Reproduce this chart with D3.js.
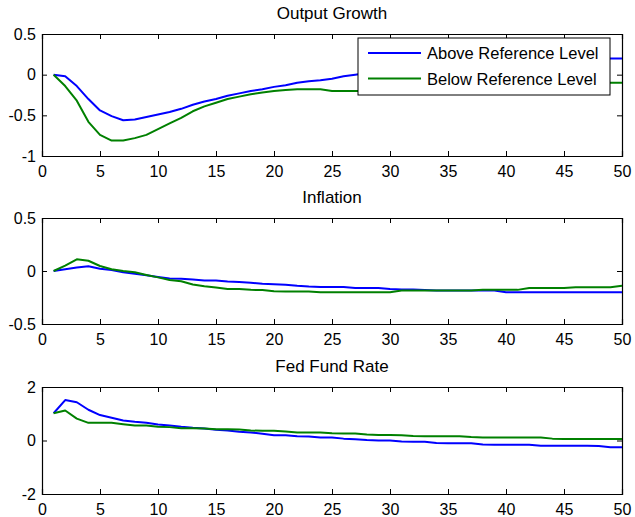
<!DOCTYPE html>
<html>
<head>
<meta charset="utf-8">
<script src="https://cdn.jsdelivr.net/npm/d3@7"></script>
<style>
  body { margin: 0; background: #fff; }
  text { font-family: "Liberation Sans", Arial, Helvetica, sans-serif; fill: #000; }
</style>
</head>
<body>
<div class="chart"></div>
<script>
// horizons 1..50
var periods = d3.range(1, 51);

var panelTitles = ["Output Growth", "Inflation", "Fed Fund Rate"];
var seriesNames = ["Above Reference Level", "Below Reference Level"];

var xTicks = [0, 5, 10, 15, 20, 25, 30, 35, 40, 45, 50];
var yTicksOutput = [-1, -0.5, 0, 0.5];
var yTicksInflation = [-0.5, 0, 0.5];
var yTicksFed = [-2, 0, 2];

var outputAbove = [0, -0.02, -0.14, -0.30, -0.44, -0.51, -0.56, -0.55, -0.52, -0.49,
  -0.46, -0.42, -0.37, -0.33, -0.30, -0.26, -0.23, -0.20, -0.18, -0.15,
  -0.13, -0.10, -0.08, -0.07, -0.05, -0.02, 0.0, 0.02, 0.04, 0.06,
  0.07, 0.09, 0.10, 0.11, 0.12, 0.13, 0.14, 0.15, 0.15, 0.16,
  0.17, 0.17, 0.18, 0.18, 0.18, 0.19, 0.19, 0.19, 0.20, 0.20];
var outputBelow = [0, -0.14, -0.32, -0.58, -0.74, -0.81, -0.81, -0.78, -0.74, -0.67,
  -0.60, -0.53, -0.45, -0.39, -0.345, -0.30, -0.27, -0.24, -0.22, -0.20,
  -0.19, -0.18, -0.18, -0.18, -0.20, -0.20, -0.20, -0.20, -0.20, -0.20,
  -0.19, -0.19, -0.18, -0.18, -0.17, -0.16, -0.16, -0.15, -0.14, -0.14,
  -0.13, -0.13, -0.12, -0.12, -0.11, -0.11, -0.10, -0.10, -0.10, -0.10];

var inflationAbove = [0, 0.016, 0.034, 0.044, 0.022, 0.01, -0.012, -0.025, -0.04, -0.056,
  -0.07, -0.072, -0.08, -0.09, -0.09, -0.1, -0.103, -0.11, -0.12, -0.125,
  -0.13, -0.14, -0.147, -0.15, -0.15, -0.15, -0.16, -0.16, -0.16, -0.17,
  -0.175, -0.175, -0.18, -0.185, -0.185, -0.185, -0.185, -0.185, -0.185, -0.2,
  -0.2, -0.2, -0.2, -0.2, -0.2, -0.2, -0.2, -0.2, -0.2, -0.2];
var inflationBelow = [0, 0.05, 0.11, 0.097, 0.047, 0.016, 0, -0.012, -0.037, -0.06,
  -0.084, -0.097, -0.128, -0.144, -0.156, -0.17, -0.17, -0.178, -0.18, -0.19,
  -0.194, -0.194, -0.194, -0.2, -0.2, -0.2, -0.2, -0.2, -0.2, -0.2,
  -0.185, -0.185, -0.185, -0.185, -0.185, -0.185, -0.185, -0.178, -0.178, -0.178,
  -0.178, -0.16, -0.16, -0.16, -0.16, -0.153, -0.153, -0.153, -0.153, -0.14];

var fedAbove = [1.02, 1.51, 1.43, 1.15, 0.95, 0.85, 0.75, 0.70, 0.66, 0.60,
  0.56, 0.51, 0.475, 0.45, 0.40, 0.375, 0.325, 0.30, 0.25, 0.20,
  0.20, 0.16, 0.15, 0.11, 0.11, 0.07, 0.05, 0.02, 0.0, 0.0,
  -0.04, -0.05, -0.05, -0.09, -0.1, -0.1, -0.1, -0.15, -0.16, -0.16,
  -0.16, -0.16, -0.2, -0.2, -0.2, -0.2, -0.2, -0.21, -0.25, -0.25];
var fedBelow = [1.02, 1.12, 0.82, 0.66, 0.66, 0.66, 0.61, 0.56, 0.56, 0.51,
  0.50, 0.46, 0.46, 0.45, 0.42, 0.42, 0.41, 0.375, 0.36, 0.36,
  0.34, 0.30, 0.30, 0.30, 0.27, 0.26, 0.26, 0.22, 0.21, 0.21,
  0.20, 0.17, 0.16, 0.16, 0.16, 0.16, 0.13, 0.11, 0.11, 0.11,
  0.11, 0.11, 0.11, 0.07, 0.06, 0.06, 0.06, 0.06, 0.06, 0.06];

var svgWidth = 635;
var svgHeight = 517;
var colors = ["#0000ff", "#008000"];

var panels = [
  { title: panelTitles[0], top: 34, bottom: 156, domain: [-1, 0.5], ticks: yTicksOutput, data: [outputAbove, outputBelow], legend: true },
  { title: panelTitles[1], top: 218, bottom: 324, domain: [-0.5, 0.5], ticks: yTicksInflation, data: [inflationAbove, inflationBelow] },
  { title: panelTitles[2], top: 387, bottom: 494, domain: [-2, 2], ticks: yTicksFed, data: [fedAbove, fedBelow] }
];

var svg = d3.select(".chart")
  .append("svg")
  .attr("width", svgWidth)
  .attr("height", svgHeight);

var xScale = d3.scaleLinear().domain([0, 50]).range([42, 622]);

panels.forEach(function(p) {
  var yScale = d3.scaleLinear().domain(p.domain).range([p.bottom, p.top]);
  var g = svg.append("g");

  var fmt = function(d) { return d3.format("")(d).replace("−", "-"); };

  // inward ticks on all four sides (box on)
  var bottomAxis = d3.axisBottom(xScale).tickValues(xTicks).tickSize(-5).tickPadding(10).tickFormat(fmt);
  var topAxis = d3.axisTop(xScale).tickValues(xTicks).tickSize(-5).tickFormat("");
  var leftAxis = d3.axisLeft(yScale).tickValues(p.ticks).tickSize(-5).tickPadding(6).tickFormat(fmt);
  var rightAxis = d3.axisRight(yScale).tickValues(p.ticks).tickSize(-5).tickFormat("");

  g.append("g").attr("transform", `translate(0, ${p.bottom})`).call(bottomAxis);
  g.append("g").attr("transform", `translate(0, ${p.top})`).call(topAxis);
  g.append("g").attr("transform", "translate(42, 0)").call(leftAxis);
  g.append("g").attr("transform", "translate(622, 0)").call(rightAxis);

  g.selectAll(".domain").attr("stroke", "#000").attr("stroke-width", 1.2);
  g.selectAll(".tick line").attr("stroke", "#000");
  g.selectAll(".tick text").attr("font-size", 16).attr("font-family", "'Liberation Sans', Arial, sans-serif");

  var line = d3.line()
    .x(function(d, i) { return xScale(periods[i]); })
    .y(function(d) { return yScale(d); });

  p.data.forEach(function(series, k) {
    g.append("path")
      .datum(series)
      .attr("fill", "none")
      .attr("stroke", colors[k])
      .attr("stroke-width", 2)
      .attr("stroke-linejoin", "round")
      .attr("d", line);
  });

  g.append("text")
    .attr("x", (42 + 622) / 2)
    .attr("y", p.top - 15)
    .attr("text-anchor", "middle")
    .attr("font-size", 17)
    .text(p.title);

  if (p.legend) {
    var lg = g.append("g");
    lg.append("rect")
      .attr("x", 358).attr("y", 38)
      .attr("width", 252).attr("height", 57)
      .attr("fill", "#fff").attr("stroke", "#000").attr("stroke-width", 1);
    seriesNames.forEach(function(name, k) {
      var yy = 53 + k * 25.5;
      lg.append("line")
        .attr("x1", 368).attr("x2", 421)
        .attr("y1", yy).attr("y2", yy)
        .attr("stroke", colors[k]).attr("stroke-width", 2);
      lg.append("text")
        .attr("x", 427).attr("y", yy + 6)
        .attr("font-size", 16.5)
        .text(name);
    });
  }
});
</script>
</body>
</html>
